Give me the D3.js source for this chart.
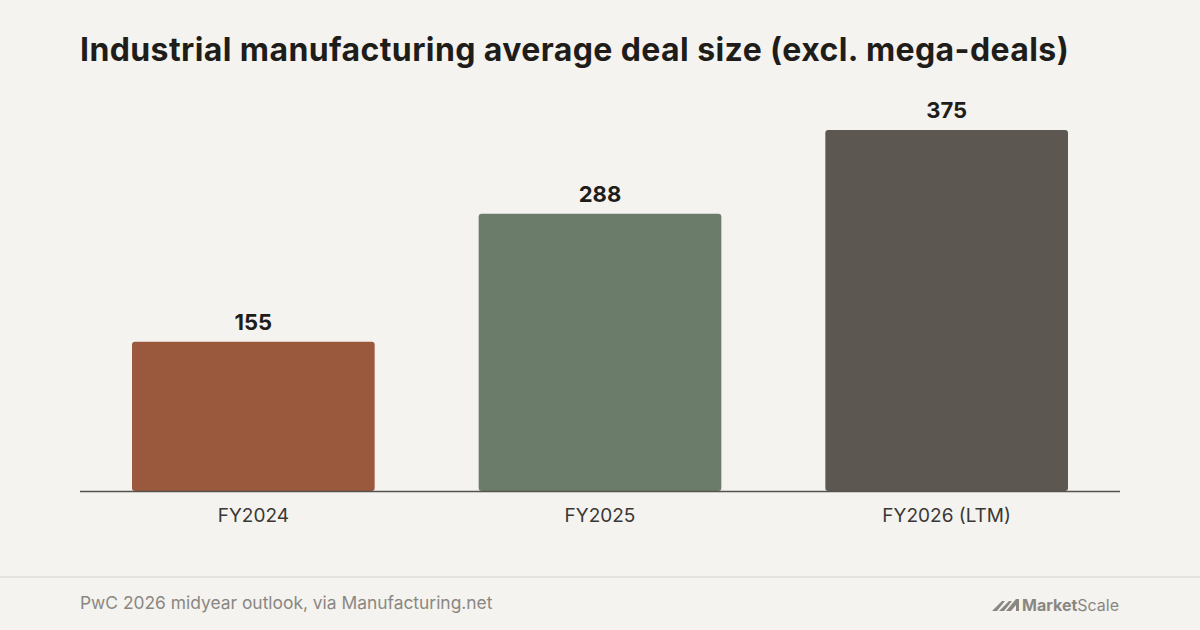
<!DOCTYPE html>
<html><head><meta charset="utf-8">
<script src="https://cdn.jsdelivr.net/npm/d3@7"></script>
<style>body{margin:0;background:#f4f3ef;}svg{display:block;}</style>
</head><body><div class="chart"></div>
<script>
var categories = ["FY2024", "FY2025", "FY2026 (LTM)"];
var values = [155, 288, 375];
var colors = ["#9a583c", "#6b7c6a", "#5c5750"];

var width = 1200, height = 630;
var svg = d3.select(".chart").append("svg")
    .attr("width", width).attr("height", height);

svg.append("rect").attr("width", width).attr("height", height).style("fill", "#f4f3ef");

svg.append("text")
    .attr("x", 80).attr("y", 61)
    .style("font-family", "Inter, 'Noto Sans', sans-serif")
    .style("font-weight", 700).style("font-size", "32px")
    .style("letter-spacing", "0.4px")
    .style("fill", "#1f1d1a")
    .text("Industrial manufacturing average deal size (excl. mega-deals)");

var x = d3.scaleBand().domain(categories).range([80, 1120])
    .paddingInner(0.3).paddingOuter(0.15);
var y = d3.scaleLinear().domain([0, 375]).range([491, 130]);

var bar = svg.selectAll(".bar").data(values).enter().append("g").attr("class", "bar");

bar.append("rect")
    .attr("x", function(d, i) { return x(categories[i]); })
    .attr("y", function(d) { return y(d); })
    .attr("width", x.bandwidth())
    .attr("height", function(d) { return y(0) - y(d); })
    .attr("rx", 3)
    .style("fill", function(d, i) { return colors[i]; });

bar.append("text")
    .attr("x", function(d, i) { return x(categories[i]) + x.bandwidth() / 2; })
    .attr("y", function(d) { return y(d) - 12; })
    .attr("text-anchor", "middle")
    .style("font-family", "Inter, 'Noto Sans', sans-serif")
    .style("font-weight", 700).style("font-size", "22px")
    .style("fill", "#1f1d1a")
    .text(function(d) { return d; });

svg.append("line")
    .attr("x1", 80).attr("x2", 1120).attr("y1", 491.5).attr("y2", 491.5)
    .style("stroke", "#55524d").style("stroke-width", 1.5);

svg.selectAll(".xlabel").data(categories).enter().append("text")
    .attr("x", function(d) { return x(d) + x.bandwidth() / 2; })
    .attr("y", 522)
    .attr("text-anchor", "middle")
    .style("font-family", "Inter, 'Noto Sans', sans-serif")
    .style("font-size", "19px").style("fill", "#3a3835")
    .text(function(d) { return d; });

svg.append("line")
    .attr("x1", 0).attr("x2", width).attr("y1", 577).attr("y2", 577)
    .style("stroke", "#e4e2dd").style("stroke-width", 2);

svg.append("text")
    .attr("x", 80).attr("y", 609)
    .style("font-family", "Inter, 'Noto Sans', sans-serif")
    .style("font-size", "17.4px").style("fill", "#8a8782")
    .text("PwC 2026 midyear outlook, via Manufacturing.net");

// logo
var logo = svg.append("g").attr("transform", "translate(992,596)");
logo.append("path")
    .attr("d", "M0,15 L10,5 L13,5 L5,15 Z M7,15 L17,5 L20,5 L12,15 Z M14,15 L24,3 L27,3 L27,15 L24,15 L24,9 L19,15 Z")
    .style("fill", "#8a8782");
var lt = logo.append("text").attr("x", 30).attr("y", 14.5)
    .style("font-family", "Inter, 'Noto Sans', sans-serif")
    .style("font-size", "16px").style("fill", "#8a8782");
lt.append("tspan").style("font-weight", 700).text("Market");
lt.append("tspan").style("font-weight", 400).text("Scale");
</script>
</body></html>
